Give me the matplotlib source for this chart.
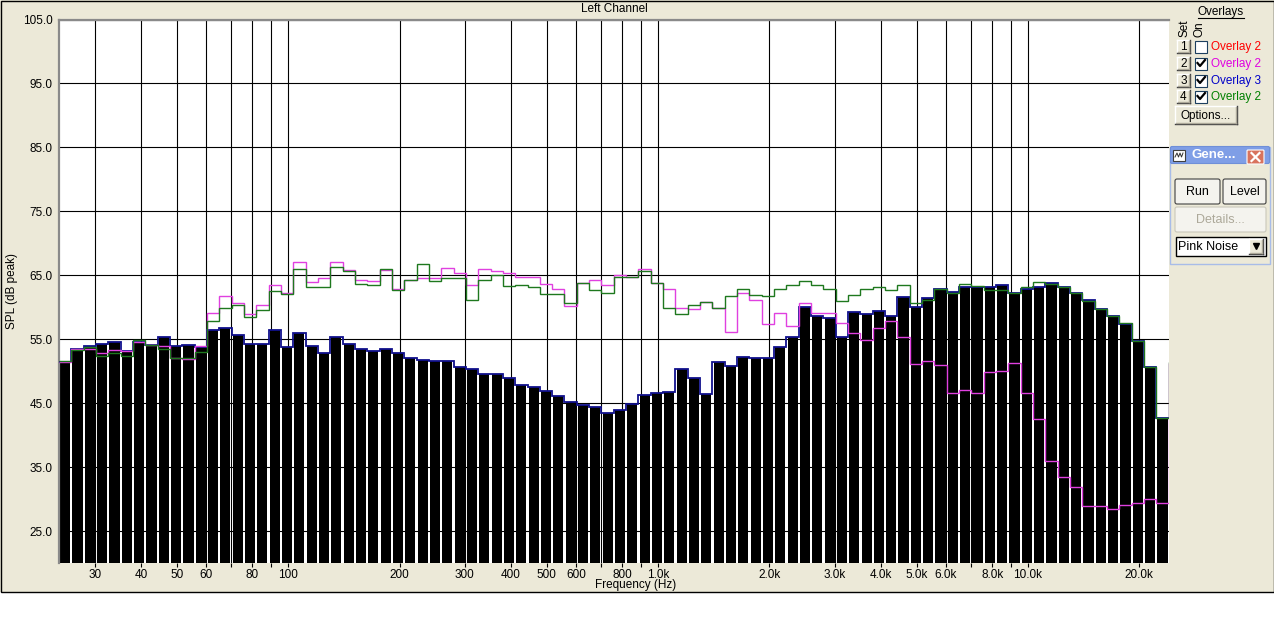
import numpy as np
import matplotlib.pyplot as plt
from matplotlib.patches import Rectangle, FancyBboxPatch
from matplotlib.ticker import NullLocator

plt.rcParams['font.family'] = ['Liberation Sans', 'DejaVu Sans']
plt.rcParams['font.size'] = 8.5

# 1/30-decade bands, lower edge of the first band in Hz
band_lo = 24.0
bands_per_decade = 30

# current measurement (black bars, blue overlay 3 follows it)
rta = [51.4, 53.5, 54.0, 54.2, 54.5, 53.1, 54.5, 54.1, 55.3, 54.0,
       54.1, 53.8, 56.4, 56.7, 55.7, 54.3, 54.3, 56.5, 53.75, 55.9,
       54.0, 52.9, 55.3, 54.3, 53.5, 53.2, 53.4, 52.9, 52.1, 51.8,
       51.6, 51.6, 50.7, 50.3, 49.5, 49.6, 49.0, 47.9, 47.5, 46.9,
       46.1, 45.2, 44.7, 44.4, 43.5, 44.0, 44.8, 46.3, 46.6, 46.8,
       50.4, 48.9, 46.5, 51.5, 50.8, 52.2, 52.0, 52.1, 53.8, 55.4,
       60.1, 58.6, 58.3, 55.3, 59.2, 58.9, 59.4, 58.7, 61.6, 60.1,
       61.5, 62.9, 62.4, 63.2, 63.1, 63.1, 63.5, 62.3, 62.9, 63.1,
       63.75, 63.2, 62.3, 61.1, 59.7, 58.7, 57.4, 54.7, 50.7, 42.6]

# overlay 2 (green, set 4) - last value is the band just past the right edge
overlay_green = [51.6, 53.3, 53.8, 52.4, 52.9, 52.4, 54.8, 54.1, 53.4, 52.1,
                 52.0, 53.0, 57.9, 59.9, 60.3, 58.4, 59.5, 62.5, 62.0, 66.0,
                 63.1, 63.1, 66.25, 65.7, 63.7, 63.5, 66.0, 62.7, 64.2, 66.7,
                 64.1, 64.5, 64.5, 61.2, 64.3, 65.0, 63.3, 63.4, 63.1, 62.1,
                 62.1, 60.7, 63.8, 62.7, 62.3, 64.7, 64.7, 65.6, 63.8, 59.9,
                 59.0, 60.3, 60.8, 59.9, 61.7, 62.9, 61.9, 61.7, 62.9, 63.5,
                 64.1, 63.5, 62.8, 61.0, 61.9, 62.8, 63.1, 62.7, 63.5, 60.6,
                 61.2, 62.9, 62.2, 63.7, 63.3, 62.7, 62.7, 62.2, 63.2, 63.9,
                 63.6, 63.2, 62.2, 61.0, 59.7, 58.7, 57.5, 54.7, 50.7, 42.6,
                 51.4]

# overlay 2 (magenta, set 2)
overlay_magenta = [51.4, 53.5, 53.5, 52.8, 53.3, 53.1, 54.5, 54.1, 54.0, 52.1,
                   51.9, 53.9, 59.1, 61.7, 60.7, 58.9, 60.3, 63.5, 62.2, 67.0,
                   64.0, 64.5, 67.1, 65.8, 64.3, 64.1, 65.9, 62.9, 64.3, 64.5,
                   64.5, 66.2, 65.3, 63.4, 66.0, 65.6, 65.4, 64.8, 64.8, 63.7,
                   62.8, 60.2, 63.8, 64.3, 63.5, 65.1, 64.7, 66.0, 63.8, 62.8,
                   59.9, 59.8, 60.8, 59.9, 56.1, 62.2, 61.2, 57.3, 59.1, 57.0,
                   60.6, 59.1, 59.1, 57.6, 55.9, 54.8, 56.7, 57.8, 55.3, 51.2,
                   51.6, 50.9, 46.6, 47.1, 46.6, 49.8, 50.0, 51.25, 46.6, 42.5,
                   36.0, 33.5, 31.9, 28.9, 28.9, 28.4, 29.0, 29.4, 30.0, 29.4,
                   51.3]

grid_freqs = [30, 40, 50, 60, 70, 80, 90, 100, 200, 300, 400, 500, 600, 700,
              800, 900, 1000, 2000, 3000, 4000, 5000, 6000, 7000, 8000, 9000,
              10000, 20000]
grid_labels = ['30', '40', '50', '60', '', '80', '', '100', '200', '300', '400',
               '500', '600', '', '800', '', '1.0k', '2.0k', '3.0k', '4.0k',
               '5.0k', '6.0k', '', '8.0k', '', '10.0k', '20.0k']
y_ticks = [25, 35, 45, 55, 65, 75, 85, 95, 105]

overlay_names = ['Overlay 2', 'Overlay 2', 'Overlay 3', 'Overlay 2']
overlay_colors = ['#ff0000', '#e000e0', '#0000c8', '#008000']
overlay_on = [False, True, True, True]

W, H = 1274, 637
beige = '#ece9d8'

fig = plt.figure(figsize=(W / 100, H / 100), dpi=100, facecolor=beige)

# background layer in pixel coordinates for the window chrome
bg = fig.add_axes([0, 0, 1, 1], zorder=-1)
bg.set_xlim(0, W)
bg.set_ylim(H, 0)
bg.axis('off')
bg.add_patch(Rectangle((0, 592), W, H - 592, fc='white', ec='none'))
bg.add_patch(Rectangle((0.5, 0.5), W - 1, 591.5, fc='none', ec='black', lw=1))
bg.text(614, 9.5, 'Left Channel', ha='center', va='center')
bg.text(12, 291, 'SPL (dB peak)', ha='center', va='center', rotation=90)
bg.text(636, 585, 'Frequency (Hz)', ha='center', va='center')

# main plot
edges = band_lo * 10 ** (np.arange(len(rta) + 1) / bands_per_decade)
edges_ov = band_lo * 10 ** (np.arange(len(overlay_green) + 1) / bands_per_decade)
step = 10 ** (1 / bands_per_decade)
bar_left = edges[:-1] * step ** 0.09
bar_right = edges[:-1] * step ** 0.91

ax = fig.add_axes([59 / W, (H - 563) / H, 1110 / W, 543.5 / H], zorder=1)
ax.set_xscale('log')
ax.set_xlim(edges[0], edges[-1] * step ** 0.03)
ax.set_ylim(20, 105)
ax.set_axisbelow(True)
ax.grid(True, color='black', lw=0.8)

ax.bar(bar_left, np.array(rta) - 20, width=bar_right - bar_left, bottom=20,
       align='edge', color='black', zorder=2)
ax.stairs(rta, edges, baseline=None, color='#10108c', lw=1.3, zorder=3)
ax.stairs(overlay_magenta, edges_ov, baseline=None, color='#e040e0', lw=1.0, zorder=4)
ax.stairs(overlay_green, edges_ov, baseline=None, color='#1e781e', lw=1.0, zorder=5)

ax.set_xticks(grid_freqs)
ax.set_xticklabels(grid_labels)
ax.xaxis.set_minor_locator(NullLocator())
ax.set_yticks(y_ticks)
ax.set_yticklabels(['%.1f' % v for v in y_ticks])
ax.tick_params(axis='x', direction='out', length=3, width=0.8, pad=1.5, labelsize=8.5)
ax.tick_params(axis='y', length=0, pad=4.5, labelsize=8.5)
for s in ['right', 'bottom']:
    ax.spines[s].set_visible(False)
for s in ['left', 'top']:
    ax.spines[s].set_color('#8a8a8a')
    ax.spines[s].set_linewidth(1.6)


def raised_button(x0, y0, x1, y1, label, color='black'):
    bg.add_patch(Rectangle((x0, y0), x1 - x0, y1 - y0, fc=beige, ec='none'))
    bg.plot([x0, x1], [y0, y0], color='white', lw=1)
    bg.plot([x0, x0], [y0, y1], color='white', lw=1)
    bg.plot([x0, x1], [y1, y1], color='#404040', lw=1)
    bg.plot([x1, x1], [y0, y1], color='#404040', lw=1)
    bg.plot([x0 + 1, x1 - 1], [y1 - 1, y1 - 1], color='#aca899', lw=1)
    bg.plot([x1 - 1, x1 - 1], [y0 + 1, y1 - 1], color='#aca899', lw=1)
    bg.text((x0 + x1) / 2, (y0 + y1) / 2 + 0.5, label, ha='center', va='center',
            color=color)


def xp_button(x0, y0, x1, y1, label, color='black', edge='#404040'):
    bg.add_patch(FancyBboxPatch((x0 + 2, y0 + 2), x1 - x0 - 4, y1 - y0 - 4,
                                boxstyle='round,pad=2', fc='#f4f3ee', ec=edge, lw=0.8))
    bg.text((x0 + x1) / 2, (y0 + y1) / 2 + 0.5, label, ha='center', va='center',
            color=color, fontsize=9)


# overlay panel
bg.text(1221, 12.5, 'Overlays', ha='center', va='center')
bg.plot([1198, 1244], [18, 18], color='black', lw=0.8)
bg.text(1184, 28, 'Set', ha='center', va='center', rotation=90)
bg.text(1199.5, 29, 'On', ha='center', va='center', rotation=90)
row_y = [46.5, 63.5, 80.5, 96.5]
for i, yc in enumerate(row_y):
    raised_button(1177, yc - 6.5, 1190, yc + 6.5, str(i + 1))
    bg.add_patch(Rectangle((1195, yc - 6), 12, 12, fc='white', ec='#1c3f5f', lw=0.8))
    if overlay_on[i]:
        bg.plot([1197.5, 1200, 1205], [yc - 0.5, yc + 2.5, yc - 3.5], color='black', lw=1.6)
    bg.text(1211, yc + 0.5, overlay_names[i], ha='left', va='center', color=overlay_colors[i])
raised_button(1175, 106, 1237, 124, 'Options...')

# generator window
bg.add_patch(Rectangle((1170, 147), 100, 117, fc=beige, ec='#a8bce8', lw=1))
bg.add_patch(FancyBboxPatch((1172, 148), 96, 14, boxstyle='round,pad=1.5',
                            fc='#7f9ee6', ec='#6f8fd8', lw=0.8))
bg.add_patch(Rectangle((1173, 150), 12, 11, fc='white', ec='#404040', lw=0.8))
bg.plot([1175, 1177, 1178.5, 1180, 1181.5, 1183], [157, 153, 157, 153, 157, 153],
        color='#303030', lw=0.7)
bg.text(1192, 155.5, 'Gene...', ha='left', va='center', color='white',
        fontweight='bold', fontsize=9.5)
bg.add_patch(FancyBboxPatch((1248, 151), 15, 12, boxstyle='round,pad=1',
                            fc='#d8735e', ec='white', lw=0.8))
bg.plot([1251.5, 1259.5], [153, 161], color='white', lw=1.6)
bg.plot([1251.5, 1259.5], [161, 153], color='white', lw=1.6)
xp_button(1175, 179, 1220, 204, 'Run')
xp_button(1223, 179, 1266, 204, 'Level')
xp_button(1175, 207, 1266, 232, 'Details...', color='#aca899', edge='#c9c7ba')
bg.add_patch(Rectangle((1175.5, 237), 90, 19, fc='white', ec='black', lw=1))
bg.text(1178, 247, 'Pink Noise', ha='left', va='center', fontsize=9)
raised_button(1249, 239, 1263, 254, '')
bg.plot([1256], [246], marker='v', color='black', markersize=4)

fig.savefig('out.png', dpi=100, facecolor=beige)
